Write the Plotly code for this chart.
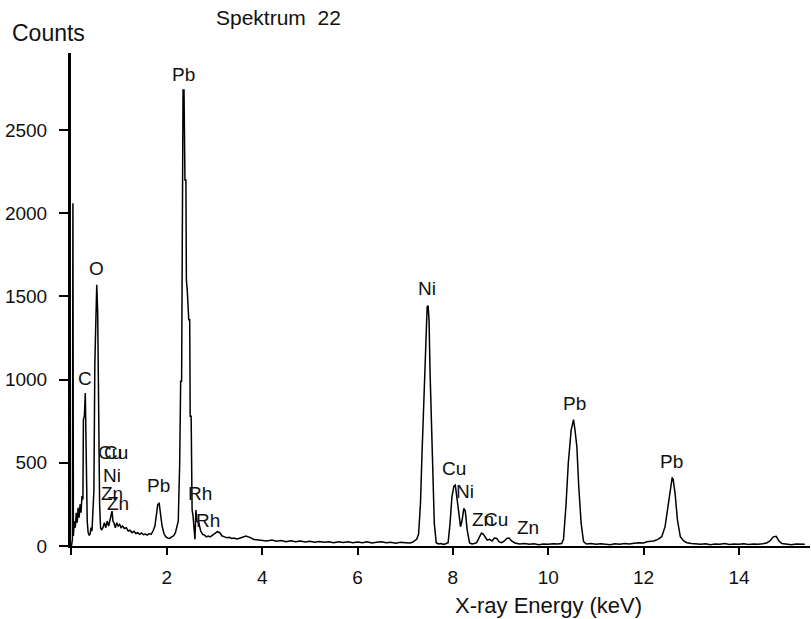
import plotly.graph_objects as go

# ---- spectrum data (energy in keV, counts) ----
energy_kev = [
    0.00, 0.02, 0.03, 0.04, 0.06, 0.08, 0.10, 0.12, 0.14, 0.16, 0.18, 0.20, 0.22, 0.24,
    0.25, 0.27, 0.29, 0.31, 0.33, 0.35, 0.37, 0.39, 0.41, 0.43, 0.45, 0.47, 0.49, 0.51,
    0.53, 0.55, 0.57, 0.59, 0.61, 0.63, 0.66, 0.69, 0.72, 0.75, 0.78, 0.81, 0.83, 0.85,
    0.87, 0.89, 0.92, 0.95, 0.98, 1.01, 1.04, 1.07, 1.11, 1.15, 1.19, 1.23, 1.27, 1.31,
    1.35, 1.39, 1.43, 1.47, 1.51, 1.55, 1.59, 1.63, 1.67, 1.71, 1.75, 1.78, 1.81, 1.84,
    1.87, 1.90, 1.94, 1.98, 2.02, 2.06, 2.10, 2.14, 2.18, 2.21, 2.24, 2.27, 2.29, 2.31,
    2.32, 2.34, 2.36, 2.38, 2.40, 2.41, 2.43, 2.46, 2.48, 2.49, 2.51, 2.53, 2.55, 2.57,
    2.59, 2.61, 2.63, 2.67, 2.71, 2.75, 2.79, 2.83, 2.87, 2.91, 2.96, 3.01, 3.06, 3.11,
    3.16, 3.21, 3.26, 3.31, 3.36, 3.41, 3.46, 3.51, 3.56, 3.61, 3.66, 3.71, 3.76, 3.81,
    3.90, 4.00, 4.10, 4.20, 4.30, 4.40, 4.50, 4.60, 4.70, 4.80, 4.90, 5.00, 5.10, 5.20,
    5.30, 5.40, 5.50, 5.60, 5.70, 5.80, 5.90, 6.00, 6.10, 6.20, 6.30, 6.40, 6.50, 6.60,
    6.70, 6.80, 6.90, 7.00, 7.10, 7.15, 7.20, 7.24, 7.28, 7.32, 7.35, 7.38, 7.41, 7.44,
    7.46, 7.48, 7.50, 7.52, 7.55, 7.58, 7.61, 7.65, 7.70, 7.75, 7.80, 7.85, 7.90, 7.94,
    7.98, 8.02, 8.05, 8.08, 8.12, 8.16, 8.19, 8.23, 8.26, 8.30, 8.35, 8.40, 8.45, 8.50,
    8.55, 8.60, 8.64, 8.68, 8.72, 8.77, 8.82, 8.87, 8.92, 8.97, 9.02, 9.08, 9.13, 9.18,
    9.23, 9.30, 9.40, 9.50, 9.60, 9.70, 9.80, 9.90, 10.00, 10.10, 10.20, 10.28, 10.32, 10.37,
    10.42, 10.48, 10.53, 10.56, 10.60, 10.64, 10.69, 10.74, 10.80, 10.90, 11.00, 11.10, 11.20, 11.30,
    11.40, 11.50, 11.60, 11.70, 11.80, 11.90, 12.00, 12.07, 12.15, 12.21, 12.30, 12.38, 12.45, 12.51,
    12.56, 12.60, 12.62, 12.66, 12.71, 12.77, 12.84, 12.91, 13.00, 13.08, 13.20, 13.30, 13.40, 13.50,
    13.60, 13.70, 13.80, 13.90, 14.00, 14.10, 14.20, 14.30, 14.40, 14.50, 14.58, 14.65, 14.72, 14.78,
    14.84, 14.90, 15.00, 15.10, 15.20, 15.30, 15.38,
]
counts = [
    0, 40, 2060, 60, 150, 110, 200, 140, 230, 170, 250, 200, 300, 280,
    760, 780, 920, 500, 150, 80, 66, 70, 110, 90, 200, 330, 1100, 1420,
    1570, 1400, 700, 250, 110, 96, 110, 140, 110, 150, 120, 170, 200, 210,
    150, 140, 110, 140, 120, 130, 110, 120, 105, 110, 90, 95, 80, 88,
    75, 80, 70, 78, 68, 72, 66, 75, 70, 90, 120, 180, 250, 256,
    180, 120, 75, 55, 48, 45, 55, 60, 80, 110, 150, 500, 990, 990,
    2200, 2740, 2740, 2200, 2200, 1600, 1530, 1360, 1360, 780, 780, 220, 180, 80,
    40, 216, 150, 140, 90, 70, 65, 55, 60, 55, 65, 75, 86, 80,
    60, 55, 50, 52, 45, 48, 42, 45, 50, 55, 60, 55, 50, 40,
    38, 35, 30, 36, 28, 33, 26, 32, 25, 30, 24, 28, 22, 27,
    23, 26, 20, 25, 21, 26, 19, 24, 20, 26, 18, 22, 25, 19,
    23, 17, 22, 20, 18, 22, 30, 40, 70, 256, 536, 796, 1076, 1296,
    1436, 1445, 1356, 1056, 756, 416, 136, 20, 12, 15, 10, 14, 20, 136,
    296, 360, 366, 300, 200, 116, 150, 226, 210, 96, 18, 12, 15, 20,
    50, 78, 70, 56, 35, 40, 30, 48, 45, 25, 20, 30, 45, 48,
    30, 18, 12, 15, 10, 14, 8, 12, 10, 14, 12, 15, 40, 236,
    496, 696, 760, 700, 596, 356, 136, 26, 12, 15, 10, 14, 12, 8,
    14, 10, 15, 12, 16, 20, 18, 25, 28, 30, 40, 56, 116, 236,
    356, 412, 400, 316, 156, 56, 30, 20, 15, 12, 10, 14, 8, 12,
    10, 15, 9, 12, 10, 14, 9, 12, 10, 14, 18, 30, 55, 58,
    30, 15, 12, 8, 12, 9, 10,
]

# ---- peak labels: text, energy (keV), label height (counts) ----
label_text = ["Pb", "O", "C", "Cu", "Cu", "Ni", "Zn", "Zn", "Pb", "Rh", "Rh",
              "Ni", "Cu", "Ni", "Zn", "Cu", "Zn", "Pb", "Pb"]
label_kev = [2.35, 0.53, 0.28, 0.80, 0.93, 0.86, 0.86, 0.98, 1.83, 2.69, 2.86,
             7.46, 8.02, 8.25, 8.63, 8.90, 9.57, 10.54, 12.59]
label_counts = [2836, 1665, 1007, 559, 559, 421, 313, 258, 361, 313, 156,
                1550, 463, 325, 162, 162, 114, 859, 505]

x_tick_vals = [0, 2, 4, 6, 8, 10, 12, 14]
x_tick_text = ["", "2", "4", "6", "8", "10", "12", "14"]
y_tick_vals = [0, 500, 1000, 1500, 2000, 2500]

FONT = "Liberation Sans, Arial, sans-serif"

fig = go.Figure()
fig.add_trace(go.Scatter(
    x=energy_kev, y=counts, mode="lines",
    line=dict(color="black", width=1.5),
    hoverinfo="skip", showlegend=False,
))

annotations = []
for t, xv, yv in zip(label_text, label_kev, label_counts):
    annotations.append(dict(
        x=xv, y=yv, xref="x", yref="y", text=t, showarrow=False,
        xanchor="center", yanchor="middle",
        font=dict(family=FONT, size=19, color="#111"),
    ))

annotations += [
    dict(x=-0.0304, y=1.0406, xref="paper", yref="paper", text="Counts",
         showarrow=False, xanchor="center", yanchor="middle",
         font=dict(family=FONT, size=23, color="#111")),
    dict(x=0.2808, y=1.071, xref="paper", yref="paper", text="Spektrum&nbsp;&nbsp;22",
         showarrow=False, xanchor="center", yanchor="middle",
         font=dict(family=FONT, size=21, color="#111")),
    dict(x=0.6468, y=-0.1197, xref="paper", yref="paper", text="X-ray Energy (keV)",
         showarrow=False, xanchor="center", yanchor="middle",
         font=dict(family=FONT, size=22, color="#111")),
]

fig.update_layout(
    width=811, height=619, autosize=False,
    margin=dict(l=71, r=1, t=53, b=73, pad=0, autoexpand=False),
    plot_bgcolor="white", paper_bgcolor="white",
    font=dict(family=FONT, size=18, color="#111"),
    annotations=annotations,
    xaxis=dict(
        range=[-0.01, 15.49], showgrid=False, zeroline=False, automargin=False,
        showline=True, linecolor="black", linewidth=2,
        ticks="outside", ticklen=7, tickwidth=2, tickcolor="black",
        tickvals=x_tick_vals, ticktext=x_tick_text,
        tickfont=dict(family=FONT, size=19, color="#111"),
        ticklabelstandoff=6,
    ),
    yaxis=dict(
        range=[0, 2963], showgrid=False, zeroline=False, automargin=False,
        showline=True, linecolor="black", linewidth=3,
        ticks="outside", ticklen=9, tickwidth=2, tickcolor="black",
        tickvals=y_tick_vals, ticktext=[str(v) for v in y_tick_vals],
        tickfont=dict(family=FONT, size=19, color="#111"),
        ticklabelstandoff=8,
    ),
)

fig.write_html(
    "out.html",
    config={"displayModeBar": False},
    post_script="document.body.style.margin='0';document.body.style.padding='0';",
)
